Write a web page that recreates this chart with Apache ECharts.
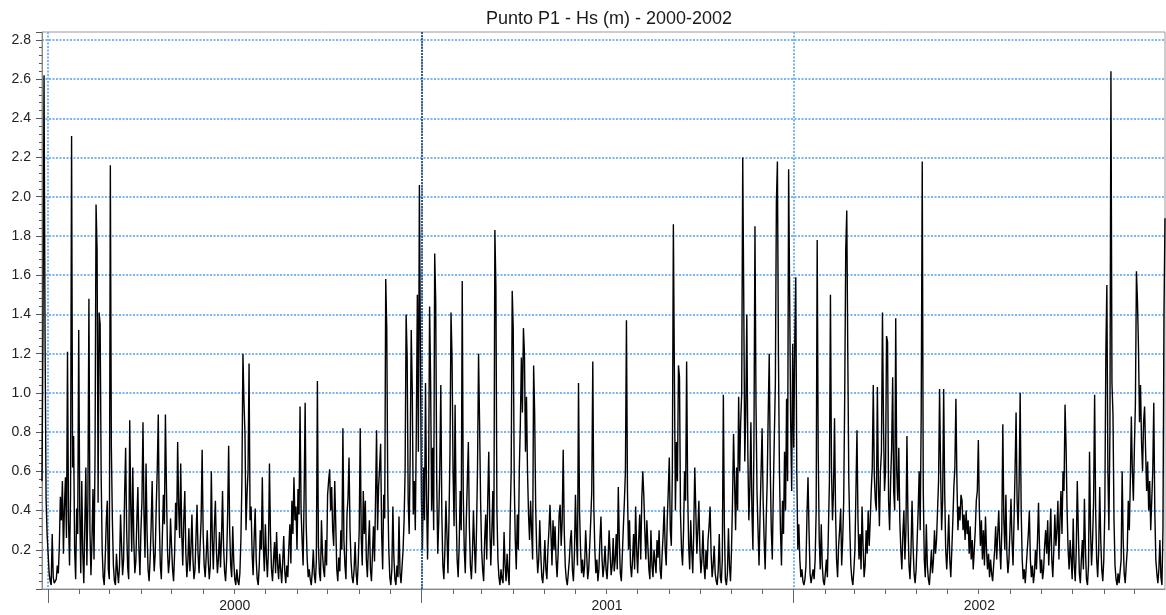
<!DOCTYPE html>
<html><head><meta charset="utf-8">
<script src="https://cdn.jsdelivr.net/npm/echarts@6/dist/echarts.min.js"></script>
<style>html,body{margin:0;padding:0;background:#fff}#c{width:1166px;height:615px}</style>
</head><body><div id="c"></div>
<script>
// Daily Hs (m) values, starting 1999-12-26
const startDate = [1999, 11, 26];
const chartTitle = 'Punto P1 - Hs (m) - 2000-2002';
const yearLabels = ['2000', '2001', '2002'];
const yTickLabels = ['0.2','0.4','0.6','0.8','1.0','1.2','1.4','1.6','1.8','2.0','2.2','2.4','2.6','2.8'];

const hs1999 = [0.55,1.35,2.62,1.28,0.46,0.28];

const hs2000 = [
0.18,0.08,0.04,0.02,0.28,0.06,0.03,0.02,0.05,0.12,
0.08,0.22,0.47,0.35,0.55,0.18,0.42,0.57,0.26,1.21,
0.35,0.12,0.48,2.31,0.62,0.78,0.2,0.05,0.41,0.28,
1.32,0.4,0.08,0.55,0.18,0.03,0.33,0.62,0.12,0.45,
1.48,0.3,0.07,0.25,0.51,0.15,0.68,1.96,1.73,0.44,
1.41,1.35,0.58,0.2,0.06,0.02,0.16,0.34,0.45,0.1,
0.05,2.16,0.72,0.35,0.12,0.04,0.02,0.18,0.09,0.03,
0.12,0.38,0.22,0.07,0.15,0.48,0.72,0.3,0.11,0.05,
0.86,0.43,0.19,0.62,0.25,0.08,0.14,0.35,0.52,0.21,
0.07,0.3,0.45,0.85,0.38,0.16,0.64,0.29,0.1,0.04,
0.15,0.32,0.55,0.24,0.09,0.18,0.42,0.61,0.89,0.35,
0.12,0.05,0.27,0.48,0.33,0.89,0.52,0.2,0.08,0.15,
0.36,0.22,0.1,0.04,0.18,0.44,0.3,0.75,0.41,0.26,
0.64,0.28,0.12,0.35,0.5,0.19,0.06,0.14,0.31,0.09,
0.2,0.38,0.15,0.05,0.1,0.27,0.43,0.18,0.08,0.22,
0.35,0.71,0.28,0.12,0.06,0.17,0.3,0.14,0.05,0.12,
0.6,0.25,0.1,0.32,0.45,0.2,0.08,0.16,0.29,0.11,
0.26,0.5,0.22,0.09,0.04,0.15,0.38,0.73,0.3,0.12,
0.06,0.32,0.14,0.05,0.02,0.1,0.04,0.02,0.08,0.25,
0.55,1.2,0.96,0.79,0.3,0.48,0.6,1.15,0.35,0.42,
0.18,0.07,0.26,0.41,0.15,0.05,0.02,0.12,0.3,0.2,
0.57,0.22,0.09,0.33,0.16,0.06,0.2,0.64,0.28,0.1,
0.04,0.15,0.24,0.08,0.29,0.12,0.05,0.18,0.1,0.03,
0.14,0.27,0.09,0.03,0.12,0.06,0.21,0.33,0.13,0.45,
0.28,0.57,0.35,0.42,0.2,0.51,0.38,0.93,0.4,0.25,
0.12,0.48,0.95,0.33,0.15,0.06,0.1,0.05,0.02,0.09,
0.2,0.07,0.03,0.15,1.06,0.22,0.08,0.04,0.35,0.18,
0.1,0.06,0.25,0.12,0.48,0.55,0.61,0.4,0.52,0.3,
0.22,0.55,0.33,0.1,0.04,0.16,0.09,0.3,0.2,0.82,
0.25,0.12,0.05,0.38,0.46,0.67,0.3,0.14,0.06,0.03,
0.1,0.24,0.08,0.02,0.13,0.3,0.82,0.26,0.12,0.5,
0.28,0.45,0.15,0.06,0.22,0.35,0.1,0.04,0.18,0.32,
0.14,0.45,0.81,0.3,0.52,0.62,0.74,0.28,0.1,0.48,
0.36,1.58,1.33,0.5,0.2,0.06,0.02,0.1,0.42,0.16,
0.05,0.02,0.12,0.06,0.37,0.08,0.03,0.02,0.2,0.35,
0.6,1.4,1.18,0.45,0.28,0.7,1.32,1.02,0.38,0.55,
0.3,0.82,1.5,0.7,2.06,1.2
];

const hs2001 = [
0.45,0.2,0.62,0.35,1.05,0.48,0.15,0.52,1.44,1.06,
0.4,0.72,0.3,1.71,1.47,0.55,0.18,0.35,0.62,1.04,
0.38,0.12,0.05,0.2,0.45,0.28,0.08,0.35,0.7,1.41,
1.18,0.6,0.32,0.94,0.42,0.15,0.06,0.22,0.5,0.3,
1.57,0.48,0.2,0.08,0.35,0.55,0.75,0.32,0.12,0.05,
0.18,0.4,0.22,0.08,0.3,0.62,1.2,0.85,0.45,0.2,
0.1,0.04,0.25,0.38,0.15,0.45,0.7,0.33,0.12,0.28,
0.5,0.22,1.83,1.54,0.4,0.15,0.06,0.02,0.1,0.05,
0.03,0.29,0.12,0.04,0.18,0.08,0.02,0.35,0.6,1.52,
1.33,0.55,0.25,0.1,0.38,0.2,0.62,0.85,1.18,0.9,
1.33,1.2,0.7,0.98,0.6,0.38,0.25,0.45,0.3,0.15,
1.14,0.9,0.42,0.2,0.08,0.15,0.35,0.18,0.06,0.03,
0.12,0.25,0.1,0.05,0.2,0.3,0.43,0.28,0.12,0.35,
0.2,0.32,0.15,0.06,0.18,0.38,0.43,0.22,0.35,0.71,
0.3,0.12,0.05,0.02,0.08,0.15,0.25,0.3,0.1,0.04,
0.18,0.48,0.26,0.12,1.05,0.4,0.2,0.08,0.15,0.06,
0.12,0.3,0.18,0.05,0.1,0.22,0.35,0.5,1.16,0.42,
0.2,0.08,0.15,0.04,0.1,0.25,0.37,0.16,0.06,0.12,
0.22,0.1,0.05,0.15,0.3,0.18,0.07,0.12,0.26,0.09,
0.15,0.28,0.1,0.52,0.25,0.08,0.04,0.18,0.32,0.45,
0.6,1.37,0.5,0.2,0.35,0.12,0.06,0.15,0.28,0.1,
0.42,0.2,0.08,0.25,0.38,0.15,0.45,0.6,0.48,0.3,
0.15,0.35,0.22,0.1,0.05,0.3,0.12,0.06,0.2,0.14,
0.08,0.25,0.16,0.3,0.1,0.05,0.18,0.28,0.42,0.2,
0.12,0.35,0.5,0.67,0.3,0.22,0.6,1.86,1.1,0.4,
0.75,0.55,1.14,1.08,0.38,0.2,0.12,0.3,0.6,0.45,
1.16,0.5,0.22,0.1,0.35,0.2,0.08,0.3,0.62,0.4,
0.18,0.3,0.45,0.2,0.08,0.15,0.3,0.12,0.05,0.2,
0.1,0.25,0.32,0.42,0.18,0.06,0.12,0.22,0.08,0.04,
0.02,0.1,0.28,0.06,0.03,0.15,0.99,0.32,0.05,0.02,
0.08,0.31,0.12,0.04,0.2,0.45,0.79,0.55,0.3,0.62,
0.4,0.98,0.6,0.85,1.0,2.2,1.48,0.65,0.9,1.4,
0.7,0.35,0.52,0.85,0.4,0.2,0.75,1.85,0.95,0.5,
0.3,0.12,0.38,0.6,0.82,0.45,0.25,0.1,0.35,0.55,
0.9,1.2,0.62,0.3,0.15,0.5,0.78,1.05,1.97,2.18,
1.2,0.6,0.3,0.12,0.45,0.28,0.7,0.4,0.97,0.55,
2.14,1.5,0.85,0.5,1.25
];

const hs2002 = [
0.72,1.25,1.59,0.6,0.2,0.33,0.15,0.06,0.1,0.04,
0.02,0.05,0.12,0.38,0.57,0.3,0.08,0.03,0.02,0.1,
0.05,0.15,0.4,1.78,0.7,0.25,0.1,0.33,0.12,0.04,
0.02,0.08,0.15,0.06,0.3,0.55,1.5,0.62,0.35,0.5,
0.87,0.4,0.15,0.06,0.22,0.3,0.41,0.12,0.25,0.45,
0.99,1.73,1.93,1.2,0.55,0.3,0.12,0.05,0.02,0.1,
0.2,0.5,0.81,0.35,0.15,0.28,0.1,0.42,0.22,0.06,
0.12,0.3,0.18,0.4,0.22,0.35,0.5,0.62,1.04,0.58,
0.45,0.4,1.03,0.55,0.32,0.6,0.7,1.41,0.85,0.5,
0.6,1.29,1.26,0.45,0.3,0.55,0.72,1.08,0.5,0.4,
1.38,0.6,0.45,0.72,0.35,0.2,0.1,0.28,0.4,0.15,
0.3,0.78,0.35,0.12,0.05,0.2,0.45,0.22,0.08,0.03,
0.1,0.25,0.4,0.6,0.3,0.9,2.18,0.5,0.15,0.06,
0.33,0.12,0.05,0.02,0.1,0.2,0.08,0.15,0.3,0.18,
0.25,0.4,0.55,1.02,0.6,0.3,0.45,1.02,0.5,0.2,
0.1,0.22,0.38,0.15,0.06,0.2,0.35,0.52,0.62,0.97,
0.55,0.3,0.42,0.35,0.48,0.45,0.3,0.38,0.25,0.4,
0.28,0.35,0.18,0.32,0.15,0.25,0.1,0.2,0.3,0.45,
0.5,0.76,0.4,0.22,0.35,0.15,0.3,0.12,0.37,0.2,
0.1,0.18,0.06,0.15,0.08,0.04,0.12,0.2,0.32,0.15,
0.28,0.4,0.22,0.1,0.3,0.84,0.35,0.2,0.48,0.18,
0.08,0.15,0.3,0.46,0.25,0.12,0.35,0.6,0.9,0.45,
0.3,0.55,1.0,0.4,0.15,0.05,0.1,0.03,0.12,0.2,
0.28,0.4,0.15,0.06,0.12,0.03,0.08,0.2,0.1,0.25,
0.44,0.2,0.08,0.15,0.05,0.1,0.22,0.3,0.18,0.35,
0.12,0.25,0.41,0.15,0.06,0.2,0.38,0.22,0.3,0.45,
0.15,0.35,0.5,0.28,0.6,0.5,0.94,0.73,0.4,0.2,
0.1,0.25,0.15,0.05,0.36,0.12,0.04,0.2,0.55,0.3,
0.08,0.03,0.15,0.25,0.1,0.46,0.2,0.05,0.02,0.12,
0.7,0.3,0.12,0.25,0.45,0.99,0.4,0.15,0.06,0.2,
0.52,0.25,0.1,0.04,0.15,0.4,1.2,1.55,0.6,0.3,
0.8,2.64,1.05,0.89,0.35,0.12,0.05,0.02,0.08,0.03,
0.02,0.15,0.6,0.25,0.08,0.03,0.12,0.2,0.45,0.3,
0.55,0.88,0.6,0.45,0.72,0.95,1.62,1.47,1.23,0.85,
1.04,0.75,0.6,0.85,0.93,0.7,0.5,0.65,0.4,0.55,
0.3,0.45,0.6,0.95,0.4,0.15,0.08,0.03,0.1,0.25,
0.06,0.02,0.3,1.4,1.89
];

const values = hs1999.concat(hs2000, hs2001, hs2002);
const dates = [];
const t0 = Date.UTC(startDate[0], startDate[1], startDate[2]);
for (let i = 0; i < values.length; i++) {
  dates.push(new Date(t0 + i * 86400000).toISOString().slice(0, 10));
}

const FONT = 'Liberation Sans, Arial, sans-serif';
const GRID_BLUE = '#7ab6f2';
const GRID_STYLE = {color: GRID_BLUE, type: [2, 1.5], width: 2};
const chart = echarts.init(document.getElementById('c'), null, {renderer: 'canvas'});
chart.setOption({
  animation: false,
  backgroundColor: '#fff',
  title: {
    text: chartTitle, left: 604, top: 5, textAlign: 'center',
    textStyle: {fontFamily: FONT, fontSize: 18, fontWeight: 'normal', color: '#1a1a1a'}
  },
  grid: {left: 42, right: 1, top: 32, bottom: 26, show: true, borderColor: '#9a9a9a', borderWidth: 1},
  xAxis: [
    {
      type: 'category', data: dates, boundaryGap: false, position: 'bottom',
      axisLine: {show: true, lineStyle: {color: '#888', width: 1}},
      axisTick: {show: true, interval: (i, v) => v.slice(8) === '01', length: 5, lineStyle: {color: '#666'}},
      axisLabel: {
        interval: (i, v) => v.slice(5) === '07-02',
        formatter: v => yearLabels.includes(v.slice(0, 4)) ? v.slice(0, 4) : '',
        margin: 10, fontSize: 14, color: '#222', fontFamily: FONT
      },
      splitLine: {show: false}
    },
    {
      type: 'category', data: dates, boundaryGap: false, position: 'bottom',
      axisLine: {show: false},
      axisTick: {show: true, interval: (i, v) => v.slice(5) === '01-01', length: 14, lineStyle: {color: '#666'}},
      axisLabel: {show: false},
      splitLine: {show: true, interval: (i, v) => v.slice(5) === '01-01', lineStyle: GRID_STYLE}
    }
  ],
  yAxis: [
    {
      type: 'value', min: 0, max: 2.84, interval: 0.2, position: 'left',
      axisLine: {show: true, lineStyle: {color: '#888', width: 1}},
      axisTick: {show: true, length: 6, lineStyle: {color: '#555'}},
      axisLabel: {
        formatter: v => (Math.abs(v * 5 - Math.round(v * 5)) < 1e-6 && yTickLabels.includes(v.toFixed(1))) ? v.toFixed(1) : '',
        margin: 11, fontSize: 14, color: '#222', fontFamily: FONT
      },
      splitLine: {show: true, showMinLine: false, showMaxLine: false, lineStyle: GRID_STYLE}
    },
    {
      type: 'value', min: 0, max: 2.84, interval: 0.04, position: 'left',
      axisLine: {show: false},
      axisTick: {show: true, length: 3, lineStyle: {color: '#555'}},
      axisLabel: {show: false},
      splitLine: {show: false}
    }
  ],
  series: [{
    type: 'line', data: values, xAxisIndex: 0, yAxisIndex: 0,
    symbol: 'none', showSymbol: false, silent: true,
    lineStyle: {color: '#000', width: 1.4}, itemStyle: {color: '#000'},
    markLine: {
      silent: true, symbol: 'none', label: {show: false},
      lineStyle: {color: '#1f3d70', type: [2, 1], width: 1.5},
      data: [{xAxis: '2001-01-01'}]
    }
  }]
});
</script>
</body></html>
